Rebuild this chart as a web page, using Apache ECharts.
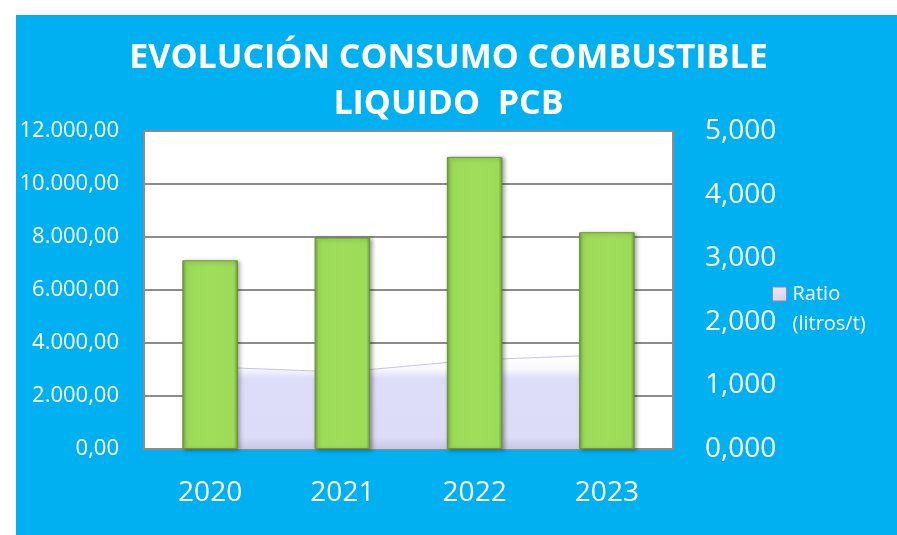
<!DOCTYPE html>
<html>
<head>
<meta charset="utf-8">
<script src="https://cdn.jsdelivr.net/npm/echarts@6/dist/echarts.min.js"></script>
<style>
  html, body { margin: 0; padding: 0; background: #fff; }
  #chart { width: 897px; height: 535px; }
</style>
</head>
<body>
<div id="chart"></div>
<script>
// datos
var years = ["2020", "2021", "2022", "2023"];
var consumo = [7120, 7980, 11020, 8180];   // eje izquierdo
var ratio = [1.29, 1.21, 1.40, 1.48];      // litros/t, eje derecho
var leftTicks = { min: 0, max: 12000, interval: 2000 };
var rightTicks = { min: 0, max: 5, interval: 1 };

function fmtEs(v, dec) {
  var s = v.toFixed(dec).split(".");
  var ent = s[0].replace(/\B(?=(\d{3})+(?!\d))/g, ".");
  return dec ? ent + "," + s[1] : ent;
}

var myChart = echarts.init(document.getElementById("chart"));

var option = {
  backgroundColor: "#fff",
  animation: false,
  graphic: [
    {
      type: "rect",
      z: -10,
      shape: { x: 16, y: 15, width: 881, height: 520 },
      style: { fill: "#00b0f0" }
    }
  ],
  title: {
    text: "EVOLUCIÓN CONSUMO COMBUSTIBLE\nLIQUIDO  PCB",
    left: "center",
    top: 30,
    textStyle: {
      color: "#fff",
      fontFamily: "Open Sans",
      fontWeight: "bold",
      fontSize: 34,
      lineHeight: 46
    }
  },
  legend: {
    left: 767,
    top: 274,
    itemWidth: 14,
    itemHeight: 44,
    itemGap: 0,
    selectedMode: false,
    data: [
      {
        name: "Ratio (litros/t)",
        // cuadro arriba, alineado con la primera linea del texto
        icon: "path://M0,0L10,0L10,10L0,10Z M10,31.4",
        itemStyle: {
          color: {
            type: "linear", x: 0, y: 0, x2: 1, y2: 1,
            colorStops: [
              { offset: 0, color: "#ece8fa" },
              { offset: 1, color: "#b4aed0" }
            ]
          },
          borderColor: "#8e88ac",
          borderWidth: 1
        }
      }
    ],
    formatter: function () {
      return "Ratio\n(litros/t)";
    },
    textStyle: {
      color: "#fff",
      fontFamily: "Open Sans",
      fontSize: 20,
      lineHeight: 30,
      padding: [0, 0, 0, 1]
    }
  },
  grid: {
    left: 144,
    right: 224,
    top: 131,
    bottom: 86,
    show: true,
    backgroundColor: "#fff",
    borderColor: "#8c8c8c",
    borderWidth: 2
  },
  xAxis: [
    {
      type: "category",
      data: years,
      axisTick: { show: false },
      axisLine: { show: true, lineStyle: { color: "#8c8c8c", width: 2 } },
      axisLabel: {
        color: "#fff",
        fontFamily: "Open Sans",
        fontSize: 28,
        margin: 30
      }
    }
  ],
  yAxis: [
    {
      type: "value",
      min: leftTicks.min,
      max: leftTicks.max,
      interval: leftTicks.interval,
      axisLine: { show: false },
      axisTick: { show: false },
      axisLabel: {
        color: "#fff",
        fontFamily: "Open Sans",
        fontSize: 22,
        margin: 25,
        formatter: function (v) { return fmtEs(v, 2); }
      },
      splitLine: { lineStyle: { color: "#8c8c8c", width: 2 } }
    },
    {
      type: "value",
      min: rightTicks.min,
      max: rightTicks.max,
      interval: rightTicks.interval,
      axisLine: { show: false },
      axisTick: { show: false },
      splitLine: { show: false },
      axisLabel: {
        color: "#fff",
        fontFamily: "Open Sans",
        fontSize: 28,
        margin: 32,
        formatter: function (v) { return fmtEs(v, 3); }
      }
    }
  ],
  series: [
    {
      name: "Ratio (litros/t)",
      type: "line",
      yAxisIndex: 1,
      data: ratio,
      showSymbol: false,
      z: 1,
      lineStyle: { color: "#c6c6de", width: 1 },
      itemStyle: { color: "#c6c6de" },
      areaStyle: {
        opacity: 1,
        color: {
          type: "linear", x: 0, y: 0, x2: 0, y2: 1,
          colorStops: [
            { offset: 0, color: "rgba(221,221,250,0)" },
            { offset: 0.15, color: "rgba(221,221,250,0.2)" },
            { offset: 0.25, color: "rgba(221,221,250,1)" },
            { offset: 0.88, color: "#dcdcf8" },
            { offset: 1, color: "#c6c6e2" }
          ]
        }
      }
    },
    {
      name: "Consumo",
      type: "bar",
      data: consumo,
      barWidth: "42%",
      z: 3,
      itemStyle: {
        color: {
          type: "linear", x: 0, y: 0, x2: 1, y2: 0,
          colorStops: [
            { offset: 0, color: "#6f9c3c" },
            { offset: 0.07, color: "#9cdb58" },
            { offset: 0.5, color: "#9fdd5b" },
            { offset: 0.93, color: "#9cdb58" },
            { offset: 1, color: "#6f9c3c" }
          ]
        },
        borderColor: "#6a9438",
        borderWidth: 1,
        shadowColor: "rgba(0,0,0,0.35)",
        shadowBlur: 4,
        shadowOffsetX: 2,
        shadowOffsetY: 1
      }
    }
  ]
};

myChart.setOption(option);
</script>
</body>
</html>
